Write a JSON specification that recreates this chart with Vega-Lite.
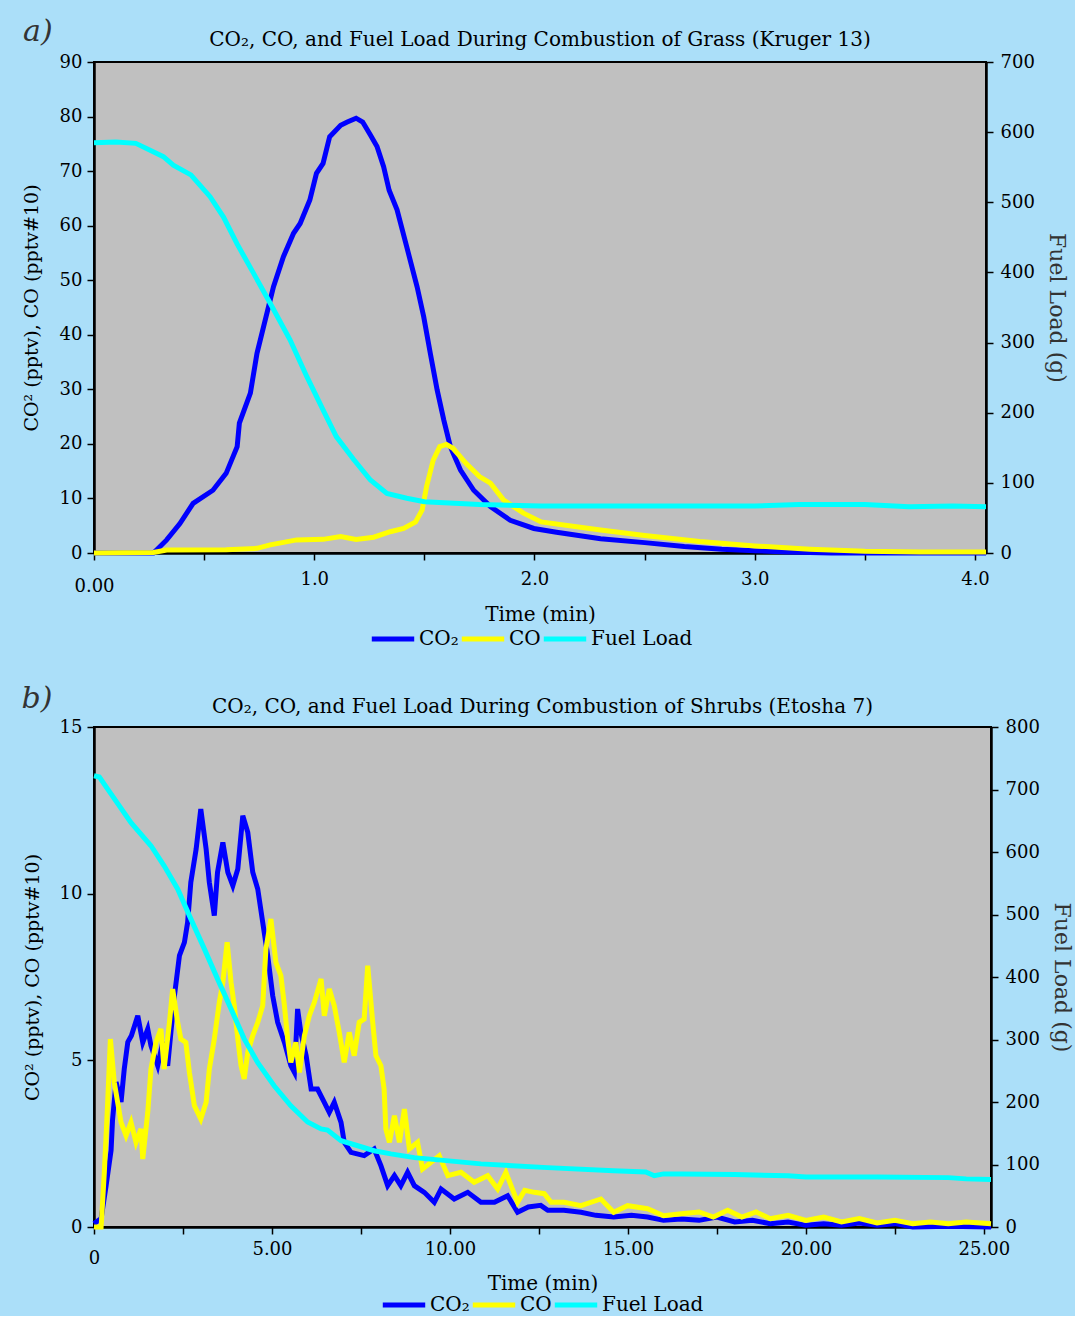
{
"$schema":"https://vega.github.io/schema/vega-lite/v6.json",
"background":"#abdff9",
"padding":{"left":20,"top":15,"right":5,"bottom":0},
"config":{
 "font":"DejaVu Serif",
 "view":{"fill":"#c0c0c0","stroke":"black","strokeWidth":2},
 "axis":{"grid":false,"domainColor":"black","domainWidth":2.5,"tickColor":"black","tickWidth":1.5,"tickSize":7,"labelFont":"DejaVu Serif","labelFontSize":18,"labelColor":"black","titleFont":"DejaVu Serif","titleFontWeight":"normal","titleFontSize":20,"titleColor":"black"},
 "legend":{"orient":"none","direction":"horizontal","symbolType":"stroke","symbolStrokeWidth":5,"symbolSize":1800,"labelFont":"DejaVu Serif","labelFontSize":20,"labelColor":"black","columnPadding":-10,"labelOffset":2,"title":null},
 "title":{"font":"DejaVu Serif","fontSize":20,"fontWeight":"normal","color":"black","offset":-33}
},
"datasets":{
 "a":[
  {"t":0,"s":"CO₂","v":0},{"t":0.27,"s":"CO₂","v":0},{"t":0.33,"s":"CO₂","v":2.4},{"t":0.39,"s":"CO₂","v":5.4},{"t":0.45,"s":"CO₂","v":9.1},{"t":0.54,"s":"CO₂","v":11.5},{"t":0.6,"s":"CO₂","v":14.6},{"t":0.65,"s":"CO₂","v":19.5},{"t":0.66,"s":"CO₂","v":23.8},{"t":0.71,"s":"CO₂","v":29.3},{"t":0.74,"s":"CO₂","v":36.6},{"t":0.77,"s":"CO₂","v":41.5},{"t":0.815,"s":"CO₂","v":48.8},{"t":0.86,"s":"CO₂","v":54.3},{"t":0.906,"s":"CO₂","v":58.6},{"t":0.936,"s":"CO₂","v":60.4},{"t":0.98,"s":"CO₂","v":64.7},{"t":1.01,"s":"CO₂","v":69.6},{"t":1.04,"s":"CO₂","v":71.4},{"t":1.07,"s":"CO₂","v":76.3},{"t":1.12,"s":"CO₂","v":78.4},{"t":1.15,"s":"CO₂","v":79.0},{"t":1.19,"s":"CO₂","v":79.7},{"t":1.22,"s":"CO₂","v":79.0},{"t":1.255,"s":"CO₂","v":76.6},{"t":1.285,"s":"CO₂","v":74.5},{"t":1.315,"s":"CO₂","v":70.8},{"t":1.34,"s":"CO₂","v":66.5},{"t":1.376,"s":"CO₂","v":62.9},{"t":1.42,"s":"CO₂","v":56.1},{"t":1.467,"s":"CO₂","v":48.8},{"t":1.497,"s":"CO₂","v":43.3},{"t":1.527,"s":"CO₂","v":36.6},{"t":1.558,"s":"CO₂","v":29.9},{"t":1.588,"s":"CO₂","v":24.4},{"t":1.618,"s":"CO₂","v":19.5},{"t":1.664,"s":"CO₂","v":15.2},{"t":1.724,"s":"CO₂","v":11.5},{"t":1.8,"s":"CO₂","v":8.5},{"t":1.89,"s":"CO₂","v":6.0},{"t":1.997,"s":"CO₂","v":4.5},{"t":2.1,"s":"CO₂","v":3.8},{"t":2.3,"s":"CO₂","v":2.6},{"t":2.5,"s":"CO₂","v":1.9},{"t":2.68,"s":"CO₂","v":1.2},{"t":2.85,"s":"CO₂","v":0.7},{"t":3.0,"s":"CO₂","v":0.4},{"t":3.15,"s":"CO₂","v":0.2},{"t":3.35,"s":"CO₂","v":0},{"t":4.05,"s":"CO₂","v":0},
  {"t":0,"s":"CO","v":0},{"t":0.27,"s":"CO","v":0.1},{"t":0.33,"s":"CO","v":0.55},{"t":0.6,"s":"CO","v":0.6},{"t":0.74,"s":"CO","v":0.85},{"t":0.8,"s":"CO","v":1.5},{"t":0.92,"s":"CO","v":2.4},{"t":1.04,"s":"CO","v":2.5},{"t":1.12,"s":"CO","v":3.0},{"t":1.19,"s":"CO","v":2.5},{"t":1.27,"s":"CO","v":2.9},{"t":1.345,"s":"CO","v":3.9},{"t":1.406,"s":"CO","v":4.5},{"t":1.46,"s":"CO","v":5.7},{"t":1.49,"s":"CO","v":7.9},{"t":1.51,"s":"CO","v":12.2},{"t":1.54,"s":"CO","v":17.0},{"t":1.57,"s":"CO","v":19.5},{"t":1.6,"s":"CO","v":19.9},{"t":1.63,"s":"CO","v":19.2},{"t":1.69,"s":"CO","v":16.4},{"t":1.75,"s":"CO","v":14.0},{"t":1.8,"s":"CO","v":12.8},{"t":1.86,"s":"CO","v":9.7},{"t":1.95,"s":"CO","v":7.3},{"t":2.03,"s":"CO","v":5.7},{"t":2.3,"s":"CO","v":4.2},{"t":2.5,"s":"CO","v":3.2},{"t":2.75,"s":"CO","v":2.1},{"t":3.0,"s":"CO","v":1.3},{"t":3.25,"s":"CO","v":0.7},{"t":3.5,"s":"CO","v":0.3},{"t":3.75,"s":"CO","v":0.2},{"t":4.05,"s":"CO","v":0.2},
  {"t":0,"s":"Fuel Load","v":585},{"t":0.1,"s":"Fuel Load","v":586},{"t":0.19,"s":"Fuel Load","v":584},{"t":0.315,"s":"Fuel Load","v":565},{"t":0.36,"s":"Fuel Load","v":553},{"t":0.44,"s":"Fuel Load","v":539},{"t":0.527,"s":"Fuel Load","v":508},{"t":0.588,"s":"Fuel Load","v":479},{"t":0.649,"s":"Fuel Load","v":441},{"t":0.724,"s":"Fuel Load","v":399},{"t":0.8,"s":"Fuel Load","v":356},{"t":0.89,"s":"Fuel Load","v":304},{"t":0.967,"s":"Fuel Load","v":251},{"t":1.04,"s":"Fuel Load","v":204},{"t":1.1,"s":"Fuel Load","v":166},{"t":1.18,"s":"Fuel Load","v":133},{"t":1.255,"s":"Fuel Load","v":104},{"t":1.33,"s":"Fuel Load","v":85},{"t":1.42,"s":"Fuel Load","v":78},{"t":1.5,"s":"Fuel Load","v":73},{"t":1.75,"s":"Fuel Load","v":69},{"t":2.03,"s":"Fuel Load","v":67},{"t":2.5,"s":"Fuel Load","v":67},{"t":3.0,"s":"Fuel Load","v":67},{"t":3.2,"s":"Fuel Load","v":69},{"t":3.5,"s":"Fuel Load","v":69},{"t":3.7,"s":"Fuel Load","v":66},{"t":3.9,"s":"Fuel Load","v":67},{"t":4.05,"s":"Fuel Load","v":66}
 ],
 "b":[
  {"t":0,"s":"CO₂","v":0.1},{"t":0.2,"s":"CO₂","v":0.25},{"t":0.34,"s":"CO₂","v":1.24},{"t":0.48,"s":"CO₂","v":2.3},{"t":0.52,"s":"CO₂","v":3.2},{"t":0.62,"s":"CO₂","v":4.35},{"t":0.76,"s":"CO₂","v":3.75},{"t":0.85,"s":"CO₂","v":4.74},{"t":0.95,"s":"CO₂","v":5.55},{"t":1.05,"s":"CO₂","v":5.74},{"t":1.23,"s":"CO₂","v":6.34},{"t":1.37,"s":"CO₂","v":5.54},{"t":1.51,"s":"CO₂","v":5.94},{"t":1.6,"s":"CO₂","v":5.44},{"t":1.79,"s":"CO₂","v":4.84},{"t":1.93,"s":"CO₂","v":5.54},{"t":2.07,"s":"CO₂","v":4.84},{"t":2.26,"s":"CO₂","v":6.94},{"t":2.4,"s":"CO₂","v":8.14},{"t":2.54,"s":"CO₂","v":8.54},{"t":2.63,"s":"CO₂","v":9.14},{"t":2.72,"s":"CO₂","v":10.34},{"t":2.87,"s":"CO₂","v":11.34},{"t":3.0,"s":"CO₂","v":12.54},{"t":3.15,"s":"CO₂","v":11.34},{"t":3.24,"s":"CO₂","v":10.34},{"t":3.38,"s":"CO₂","v":9.34},{"t":3.47,"s":"CO₂","v":10.64},{"t":3.62,"s":"CO₂","v":11.54},{"t":3.76,"s":"CO₂","v":10.64},{"t":3.9,"s":"CO₂","v":10.24},{"t":4.04,"s":"CO₂","v":10.74},{"t":4.18,"s":"CO₂","v":12.34},{"t":4.32,"s":"CO₂","v":11.84},{"t":4.46,"s":"CO₂","v":10.64},{"t":4.6,"s":"CO₂","v":10.14},{"t":4.74,"s":"CO₂","v":9.14},{"t":4.88,"s":"CO₂","v":8.14},{"t":5.02,"s":"CO₂","v":6.94},{"t":5.16,"s":"CO₂","v":6.14},{"t":5.35,"s":"CO₂","v":5.54},{"t":5.53,"s":"CO₂","v":4.84},{"t":5.63,"s":"CO₂","v":4.64},{"t":5.72,"s":"CO₂","v":6.54},{"t":5.81,"s":"CO₂","v":5.84},{"t":5.96,"s":"CO₂","v":5.14},{"t":6.1,"s":"CO₂","v":4.14},{"t":6.28,"s":"CO₂","v":4.14},{"t":6.47,"s":"CO₂","v":3.74},{"t":6.61,"s":"CO₂","v":3.44},{"t":6.75,"s":"CO₂","v":3.74},{"t":6.94,"s":"CO₂","v":3.14},{"t":7.03,"s":"CO₂","v":2.54},{"t":7.22,"s":"CO₂","v":2.24},{"t":7.59,"s":"CO₂","v":2.14},{"t":7.87,"s":"CO₂","v":2.34},{"t":8.06,"s":"CO₂","v":1.84},{"t":8.25,"s":"CO₂","v":1.24},{"t":8.44,"s":"CO₂","v":1.54},{"t":8.62,"s":"CO₂","v":1.24},{"t":8.81,"s":"CO₂","v":1.64},{"t":9.0,"s":"CO₂","v":1.24},{"t":9.28,"s":"CO₂","v":1.04},{"t":9.56,"s":"CO₂","v":0.74},{"t":9.75,"s":"CO₂","v":1.14},{"t":10.12,"s":"CO₂","v":0.84},{"t":10.5,"s":"CO₂","v":1.04},{"t":10.87,"s":"CO₂","v":0.74},{"t":11.25,"s":"CO₂","v":0.74},{"t":11.62,"s":"CO₂","v":0.94},{"t":11.9,"s":"CO₂","v":0.44},{"t":12.2,"s":"CO₂","v":0.6},{"t":12.55,"s":"CO₂","v":0.65},{"t":12.75,"s":"CO₂","v":0.5},{"t":13.2,"s":"CO₂","v":0.5},{"t":13.68,"s":"CO₂","v":0.44},{"t":14.1,"s":"CO₂","v":0.35},{"t":14.6,"s":"CO₂","v":0.3},{"t":15.1,"s":"CO₂","v":0.35},{"t":15.55,"s":"CO₂","v":0.3},{"t":16.0,"s":"CO₂","v":0.2},{"t":16.5,"s":"CO₂","v":0.24},{"t":17,"s":"CO₂","v":0.2},{"t":17.5,"s":"CO₂","v":0.3},{"t":18,"s":"CO₂","v":0.15},{"t":18.5,"s":"CO₂","v":0.2},{"t":19,"s":"CO₂","v":0.1},{"t":19.5,"s":"CO₂","v":0.15},{"t":20,"s":"CO₂","v":0.05},{"t":20.5,"s":"CO₂","v":0.1},{"t":21,"s":"CO₂","v":0.05},{"t":21.5,"s":"CO₂","v":0.12},{"t":22,"s":"CO₂","v":0.05},{"t":22.5,"s":"CO₂","v":0.1},{"t":23,"s":"CO₂","v":0.0},{"t":24,"s":"CO₂","v":0.02},{"t":25.2,"s":"CO₂","v":0.0},
  {"t":0,"s":"CO","v":0},{"t":0.2,"s":"CO","v":0},{"t":0.29,"s":"CO","v":1.64},{"t":0.38,"s":"CO","v":3.64},{"t":0.46,"s":"CO","v":5.64},{"t":0.57,"s":"CO","v":4.34},{"t":0.76,"s":"CO","v":3.14},{"t":0.9,"s":"CO","v":2.74},{"t":1.04,"s":"CO","v":3.14},{"t":1.18,"s":"CO","v":2.54},{"t":1.32,"s":"CO","v":2.94},{"t":1.37,"s":"CO","v":2.04},{"t":1.51,"s":"CO","v":3.44},{"t":1.6,"s":"CO","v":4.74},{"t":1.74,"s":"CO","v":5.54},{"t":1.88,"s":"CO","v":5.94},{"t":1.97,"s":"CO","v":4.74},{"t":2.12,"s":"CO","v":6.14},{"t":2.21,"s":"CO","v":7.14},{"t":2.35,"s":"CO","v":6.14},{"t":2.44,"s":"CO","v":5.64},{"t":2.58,"s":"CO","v":5.54},{"t":2.68,"s":"CO","v":4.64},{"t":2.82,"s":"CO","v":3.64},{"t":3.0,"s":"CO","v":3.24},{"t":3.15,"s":"CO","v":3.74},{"t":3.24,"s":"CO","v":4.74},{"t":3.38,"s":"CO","v":5.64},{"t":3.52,"s":"CO","v":6.74},{"t":3.62,"s":"CO","v":7.34},{"t":3.74,"s":"CO","v":8.54},{"t":3.85,"s":"CO","v":7.34},{"t":3.94,"s":"CO","v":6.64},{"t":4.04,"s":"CO","v":5.64},{"t":4.13,"s":"CO","v":4.84},{"t":4.22,"s":"CO","v":4.44},{"t":4.32,"s":"CO","v":5.24},{"t":4.46,"s":"CO","v":5.74},{"t":4.6,"s":"CO","v":6.14},{"t":4.74,"s":"CO","v":6.64},{"t":4.83,"s":"CO","v":8.34},{"t":4.97,"s":"CO","v":9.24},{"t":5.11,"s":"CO","v":7.94},{"t":5.25,"s":"CO","v":7.54},{"t":5.35,"s":"CO","v":6.64},{"t":5.44,"s":"CO","v":5.64},{"t":5.53,"s":"CO","v":4.94},{"t":5.67,"s":"CO","v":5.54},{"t":5.77,"s":"CO","v":4.64},{"t":5.91,"s":"CO","v":5.74},{"t":6.05,"s":"CO","v":6.34},{"t":6.19,"s":"CO","v":6.74},{"t":6.38,"s":"CO","v":7.44},{"t":6.47,"s":"CO","v":6.34},{"t":6.61,"s":"CO","v":7.14},{"t":6.75,"s":"CO","v":6.64},{"t":6.89,"s":"CO","v":5.84},{"t":7.03,"s":"CO","v":4.94},{"t":7.17,"s":"CO","v":5.84},{"t":7.31,"s":"CO","v":5.14},{"t":7.45,"s":"CO","v":6.14},{"t":7.59,"s":"CO","v":6.24},{"t":7.69,"s":"CO","v":7.84},{"t":7.83,"s":"CO","v":6.14},{"t":7.92,"s":"CO","v":5.14},{"t":8.06,"s":"CO","v":4.84},{"t":8.15,"s":"CO","v":4.14},{"t":8.2,"s":"CO","v":2.94},{"t":8.3,"s":"CO","v":2.54},{"t":8.44,"s":"CO","v":3.34},{"t":8.58,"s":"CO","v":2.54},{"t":8.72,"s":"CO","v":3.54},{"t":8.86,"s":"CO","v":2.34},{"t":9.09,"s":"CO","v":2.54},{"t":9.23,"s":"CO","v":1.74},{"t":9.47,"s":"CO","v":1.94},{"t":9.7,"s":"CO","v":2.14},{"t":9.94,"s":"CO","v":1.54},{"t":10.31,"s":"CO","v":1.64},{"t":10.68,"s":"CO","v":1.34},{"t":11.06,"s":"CO","v":1.54},{"t":11.34,"s":"CO","v":1.14},{"t":11.57,"s":"CO","v":1.64},{"t":11.9,"s":"CO","v":0.74},{"t":12.1,"s":"CO","v":1.1},{"t":12.37,"s":"CO","v":1.04},{"t":12.65,"s":"CO","v":1.0},{"t":12.84,"s":"CO","v":0.74},{"t":13.21,"s":"CO","v":0.74},{"t":13.68,"s":"CO","v":0.64},{"t":14.24,"s":"CO","v":0.84},{"t":14.6,"s":"CO","v":0.44},{"t":14.99,"s":"CO","v":0.64},{"t":15.55,"s":"CO","v":0.55},{"t":16.0,"s":"CO","v":0.34},{"t":16.5,"s":"CO","v":0.4},{"t":17,"s":"CO","v":0.45},{"t":17.4,"s":"CO","v":0.3},{"t":17.8,"s":"CO","v":0.5},{"t":18.2,"s":"CO","v":0.3},{"t":18.6,"s":"CO","v":0.45},{"t":19,"s":"CO","v":0.25},{"t":19.5,"s":"CO","v":0.35},{"t":20,"s":"CO","v":0.2},{"t":20.5,"s":"CO","v":0.3},{"t":21,"s":"CO","v":0.15},{"t":21.5,"s":"CO","v":0.25},{"t":22,"s":"CO","v":0.12},{"t":22.5,"s":"CO","v":0.2},{"t":23,"s":"CO","v":0.1},{"t":23.5,"s":"CO","v":0.15},{"t":24,"s":"CO","v":0.1},{"t":24.5,"s":"CO","v":0.15},{"t":25.2,"s":"CO","v":0.1},
  {"t":0,"s":"Fuel Load","v":722},{"t":0.15,"s":"Fuel Load","v":720},{"t":0.38,"s":"Fuel Load","v":701},{"t":1.04,"s":"Fuel Load","v":647},{"t":1.6,"s":"Fuel Load","v":610},{"t":1.97,"s":"Fuel Load","v":578},{"t":2.35,"s":"Fuel Load","v":541},{"t":2.72,"s":"Fuel Load","v":493},{"t":3.1,"s":"Fuel Load","v":445},{"t":3.47,"s":"Fuel Load","v":397},{"t":3.85,"s":"Fuel Load","v":349},{"t":4.22,"s":"Fuel Load","v":301},{"t":4.6,"s":"Fuel Load","v":263},{"t":5.06,"s":"Fuel Load","v":226},{"t":5.53,"s":"Fuel Load","v":194},{"t":6.0,"s":"Fuel Load","v":168},{"t":6.38,"s":"Fuel Load","v":157},{"t":6.56,"s":"Fuel Load","v":155},{"t":6.94,"s":"Fuel Load","v":138},{"t":7.41,"s":"Fuel Load","v":130},{"t":7.87,"s":"Fuel Load","v":122},{"t":8.34,"s":"Fuel Load","v":117},{"t":9.0,"s":"Fuel Load","v":111},{"t":10.87,"s":"Fuel Load","v":101},{"t":12.74,"s":"Fuel Load","v":95},{"t":14.6,"s":"Fuel Load","v":90},{"t":15.5,"s":"Fuel Load","v":88},{"t":15.74,"s":"Fuel Load","v":82},{"t":16.0,"s":"Fuel Load","v":85},{"t":16.5,"s":"Fuel Load","v":85},{"t":18,"s":"Fuel Load","v":84},{"t":19.5,"s":"Fuel Load","v":82},{"t":20,"s":"Fuel Load","v":80},{"t":22,"s":"Fuel Load","v":80},{"t":24,"s":"Fuel Load","v":79},{"t":24.5,"s":"Fuel Load","v":77},{"t":25.2,"s":"Fuel Load","v":76}
 ]
},
"vconcat":[
 {
  "width":892,"height":491,
  "title":{"text":"CO₂, CO, and Fuel Load During Combustion of Grass (Kruger 13)"},
  "data":{"name":"a"},
  "layer":[
   {"layer":[
    {"transform":[{"filter":"datum.s != 'Fuel Load'"}],
     "mark":{"type":"line","strokeWidth":5},
     "encoding":{
      "x":{"field":"t","type":"quantitative","scale":{"domain":[0,4.05],"nice":false},
           "axis":{"title":"Time (min)","values":[0,0.5,1,1.5,2,2.5,3,3.5,4],"labelFlush":false,
                   "labelExpr":"datum.value==0 ? '0.00' : (datum.value % 1 == 0 ? format(datum.value, '.1f') : '')",
                   "labelPadding":{"condition":{"test":"datum.value==0","value":17},"value":10},"titlePadding":9}},
      "y":{"field":"v","type":"quantitative","scale":{"domain":[0,90],"nice":false},
           "axis":{"title":"CO² (pptv), CO (pptv#10)","values":[0,10,20,30,40,50,60,70,80,90],"labelPadding":5,"titlePadding":18,"titleFontSize":19}},
      "color":{"field":"s","type":"nominal","sort":null,"scale":{"domain":["CO₂","CO","Fuel Load"],"range":["#0000ff","#ffff00","#00ffff"]},"legend":{"legendX":275,"legendY":553}},
      "order":{"field":"t","type":"quantitative"}
     }},
    {"data":{"values":[{"lab":"a)"}]},
     "mark":{"type":"text","fontStyle":"italic","fontSize":30,"color":"#333333","align":"center","baseline":"middle"},
     "encoding":{"x":{"datum":-0.255,"type":"quantitative"},"y":{"datum":95.5,"type":"quantitative"},"text":{"field":"lab"}}}
   ]},
   {"transform":[{"filter":"datum.s == 'Fuel Load'"}],
    "mark":{"type":"line","strokeWidth":5},
    "encoding":{
     "x":{"field":"t","type":"quantitative"},
     "y":{"field":"v","type":"quantitative","scale":{"domain":[0,700],"nice":false},
          "axis":{"orient":"right","title":"Fuel Load (g)","values":[0,100,200,300,400,500,600,700],"labelPadding":7,"titleFontSize":22,"titleColor":"#333333","titlePadding":10}},
     "color":{"field":"s","type":"nominal","sort":null,"scale":{"domain":["CO₂","CO","Fuel Load"],"range":["#0000ff","#ffff00","#00ffff"]},"legend":{"legendX":275,"legendY":553}},
     "order":{"field":"t","type":"quantitative"}
    }}
  ],
  "resolve":{"scale":{"y":"independent"}}
 },
 {
  "width":897,"height":500,
  "title":{"text":"CO₂, CO, and Fuel Load During Combustion of Shrubs (Etosha 7)"},
  "data":{"name":"b"},
  "layer":[
   {"layer":[
    {"transform":[{"filter":"datum.s != 'Fuel Load'"}],
     "mark":{"type":"line","strokeWidth":5},
     "encoding":{
      "x":{"field":"t","type":"quantitative","scale":{"domain":[0,25.2],"nice":false},
           "axis":{"title":"Time (min)","values":[0,2.5,5,7.5,10,12.5,15,17.5,20,22.5,25],"labelFlush":false,
                   "labelExpr":"datum.value==0 ? '0' : (datum.value % 5 == 0 ? format(datum.value, '.2f') : '')",
                   "labelPadding":{"condition":{"test":"datum.value==0","value":15},"value":6},"titlePadding":6}},
      "y":{"field":"v","type":"quantitative","scale":{"domain":[0,15],"nice":false},
           "axis":{"title":"CO² (pptv), CO (pptv#10)","values":[0,5,10,15],"labelPadding":5,"titlePadding":17,"titleFontSize":19}},
      "color":{"field":"s","type":"nominal","sort":null,"scale":{"domain":["CO₂","CO","Fuel Load"],"range":["#0000ff","#ffff00","#00ffff"]},"legend":{"legendX":286,"legendY":554}},
      "order":{"field":"t","type":"quantitative"}
     }},
    {"data":{"values":[{"lab":"b)"}]},
     "mark":{"type":"text","fontStyle":"italic","fontSize":30,"color":"#333333","align":"center","baseline":"middle"},
     "encoding":{"x":{"datum":-1.6,"type":"quantitative"},"y":{"datum":15.84,"type":"quantitative"},"text":{"field":"lab"}}}
   ]},
   {"transform":[{"filter":"datum.s == 'Fuel Load'"}],
    "mark":{"type":"line","strokeWidth":5},
    "encoding":{
     "x":{"field":"t","type":"quantitative"},
     "y":{"field":"v","type":"quantitative","scale":{"domain":[0,800],"nice":false},
          "axis":{"orient":"right","title":"Fuel Load (g)","values":[0,100,200,300,400,500,600,700,800],"labelPadding":7,"titleFontSize":22,"titleColor":"#333333","titlePadding":10}},
     "color":{"field":"s","type":"nominal","sort":null,"scale":{"domain":["CO₂","CO","Fuel Load"],"range":["#0000ff","#ffff00","#00ffff"]},"legend":{"legendX":286,"legendY":554}},
     "order":{"field":"t","type":"quantitative"}
    }}
  ],
  "resolve":{"scale":{"y":"independent"}}
 }
],
"spacing":32,
"resolve":{"scale":{"color":"independent"},"legend":{"color":"independent"}}
}
